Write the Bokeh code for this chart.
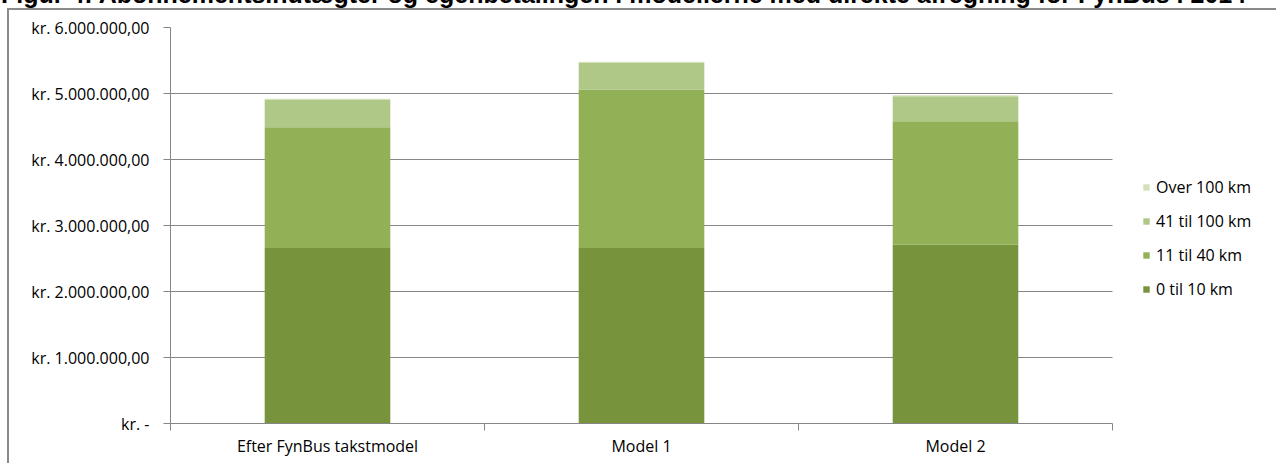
from bokeh.plotting import figure
from bokeh.models import (ColumnDataSource, FixedTicker, Legend, Range1d, Div)
from bokeh.layouts import column
from bokeh.embed import file_html
from bokeh.resources import INLINE

# ---- data ----
categories = ["Efter FynBus takstmodel", "Model 1", "Model 2"]
series = ["0 til 10 km", "11 til 40 km", "41 til 100 km", "Over 100 km"]
km_0_10 = [2660000, 2660000, 2710000]
km_11_40 = [1830000, 2400000, 1870000]
km_41_100 = [420000, 410000, 380000]
km_over_100 = [12000, 12000, 12000]
y_ticks = [0, 1000000, 2000000, 3000000, 4000000, 5000000, 6000000]
y_tick_labels = ["kr. -", "kr. 1.000.000,00", "kr. 2.000.000,00", "kr. 3.000.000,00",
                 "kr. 4.000.000,00", "kr. 5.000.000,00", "kr. 6.000.000,00"]
colors = ["#77933c", "#92b056", "#afc787", "#d3e1b8"]
title_text = "Figur 4: Abonnementsindtægter og egenbetalingen i modellerne med direkte afregning for FynBus i 2014"

W, H = 1276, 463
TOP_STRIP = 8          # height of the strip holding the cut-off title
PH = H - TOP_STRIP     # figure height
L, T, B = 170, 27 - TOP_STRIP, 40
PLOT_RIGHT = 1112      # right end of the category axis (page px)
FONT = "Open Sans"
GRAY = "#868686"

ncat = len(categories)
x_pos = [i + 0.5 for i in range(ncat)]
source = ColumnDataSource(dict(x=x_pos, **{
    series[0]: km_0_10, series[1]: km_11_40, series[2]: km_41_100, series[3]: km_over_100}))

# frame extends to the right edge so the legend can live inside it
x_end = ncat * (W - L) / (PLOT_RIGHT - L)
p = figure(width=W, height=PH, output_backend="svg", toolbar_location=None,
           x_range=Range1d(0, x_end), y_range=Range1d(0, 6000000),
           min_border_left=L, min_border_right=0, min_border_top=T, min_border_bottom=B)
p.outline_line_color = None
p.background_fill_color = None
p.border_fill_color = None
p.styles = {
    "background": ("linear-gradient(#8a8a8a,#8a8a8a) 7px 0px / 2px 100% no-repeat, "
                   "linear-gradient(#8a8a8a,#8a8a8a) 7px 0px / 100% 2px no-repeat, white"),
}

renderers = p.vbar_stack(series, x="x", width=0.4, source=source, fill_color=colors,
                         line_color=None)

# axes
p.xaxis.ticker = FixedTicker(ticks=x_pos, minor_ticks=list(range(ncat + 1)))
p.xaxis.bounds = (0, ncat)
p.xaxis.major_label_overrides = {x: c for x, c in zip(x_pos, categories)}
p.xaxis.major_tick_out = 0
p.xaxis.major_tick_in = 0
p.xaxis.minor_tick_out = 7
p.xaxis.minor_tick_in = 0
p.xaxis.minor_tick_line_color = GRAY
p.xaxis.axis_line_color = GRAY
p.xaxis.major_label_standoff = 4

p.yaxis.ticker = FixedTicker(ticks=y_ticks, minor_ticks=[])
p.yaxis.major_label_overrides = {t: l for t, l in zip(y_ticks, y_tick_labels)}
p.yaxis.major_tick_out = 7
p.yaxis.major_tick_in = 0
p.yaxis.major_tick_line_color = GRAY
p.yaxis.axis_line_color = GRAY
p.yaxis.major_label_standoff = 14

for ax in (p.xaxis, p.yaxis):
    ax.major_label_text_font = FONT
    ax.major_label_text_font_size = "16px"
    ax.major_label_text_color = "#000000"

p.xgrid.grid_line_color = None
p.ygrid.grid_line_color = GRAY
p.ygrid.grid_line_width = 1
p.ygrid.cross_bounds = (0, ncat)

# legend (reverse order), inside the extended frame
items = [(s, [r]) for s, r in zip(series, renderers)][::-1]
frame_h = PH - T - B
legend_top = 176 - 27          # px below the frame top
n = len(items)
lh, sp = 22, 12
leg_h = n * lh + (n - 1) * sp
legend = Legend(items=items, location=(1142 - L, frame_h - (legend_top + leg_h)),
                glyph_width=8, glyph_height=8, label_standoff=6,
                label_height=lh, spacing=sp, padding=0, margin=0,
                border_line_color=None, background_fill_alpha=0,
                label_text_font=FONT, label_text_font_size="16px",
                label_text_color="#000000")
p.add_layout(legend, "center")

title_div = Div(
    text=(f'<div style="position:relative; top:-18px; font-family:\'Liberation Sans\'; '
          f'font-weight:bold; font-size:25px; line-height:25px; white-space:nowrap; '
          f'color:#000; padding-left:1px;">{title_text}</div>'),
    width=W, height=TOP_STRIP, margin=0,
    styles={"overflow": "visible"})

layout = column(title_div, p, spacing=0, margin=0)

open("out.html", "w").write(file_html(layout, INLINE))
